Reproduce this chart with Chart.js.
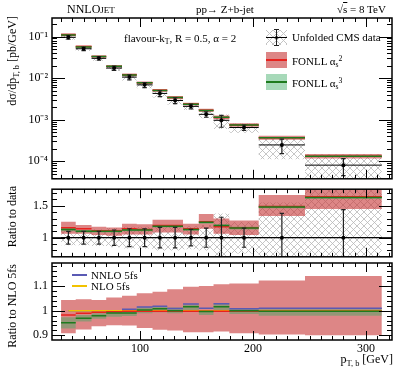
<!DOCTYPE html>
<html>
<head>
<meta charset="utf-8">
<script src="https://cdn.jsdelivr.net/npm/chart.js@4.4.1/dist/chart.umd.min.js"></script>
<style>
body { margin: 0; background: #fff; }
#wrap { position: relative; width: 415px; height: 372px; overflow: hidden; font-family: "Liberation Serif", serif; color: #000; }
canvas { position: absolute; left: 0; }
.t { position: absolute; white-space: nowrap; font-size: 11px; line-height: 1; }
.yt { position: absolute; left: 5px; white-space: nowrap; font-size: 12px; line-height: 14px; transform-origin: 0 0; transform: rotate(-90deg) translateX(-100%); }
sub { font-size: 70%; vertical-align: -0.3em; line-height: 0; }
sup { font-size: 70%; vertical-align: 0.5em; line-height: 0; }
.box { position: absolute; }
</style>
</head>
<body>
<div id="wrap">
  <canvas id="top" width="415" height="184" style="top:0"></canvas>
  <canvas id="mid" width="415" height="78" style="top:184px"></canvas>
  <canvas id="bot" width="415" height="110" style="top:262px"></canvas>

  <div class="t" style="left:67px;top:3px;font-size:12px">NNLO<span style="font-size:9px">JET</span></div>
  <div class="t" style="left:196px;top:4px">pp→ Z+b-jet</div>
  <div class="t" style="left:337px;top:4px">√<span style="text-decoration:overline">s</span> = 8 TeV</div>
  <div class="t" style="left:124px;top:33px">flavour-k<sub>T</sub>, R = 0.5, α = 2</div>

  <!-- legend -->
  <div class="box" style="left:266px;top:30px;width:21px;height:15px;background:repeating-linear-gradient(45deg,#c4c4c4 0 1px,transparent 1px 5px),repeating-linear-gradient(-45deg,#c4c4c4 0 1px,transparent 1px 5px)"></div>
  <div class="box" style="left:266px;top:37px;width:21px;height:1px;background:#000"></div>
  <div class="box" style="left:276px;top:29px;width:1px;height:17px;background:#222"></div>
  <div class="box" style="left:274px;top:29px;width:5px;height:1px;background:#222"></div>
  <div class="box" style="left:274px;top:45px;width:5px;height:1px;background:#222"></div>
  <div class="box" style="left:275px;top:36px;width:3px;height:3px;border-radius:2px;background:#000"></div>
  <div class="t" style="left:292px;top:32px">Unfolded CMS data</div>

  <div class="box" style="left:266px;top:52px;width:21px;height:16px;background:rgb(221,134,134)"></div>
  <div class="box" style="left:266px;top:59px;width:21px;height:2px;background:#e8221e"></div>
  <div class="t" style="left:292px;top:56px">FONLL α<sub>s</sub><sup>2</sup></div>

  <div class="box" style="left:266px;top:74px;width:21px;height:16px;background:rgb(167,217,185)"></div>
  <div class="box" style="left:266px;top:81px;width:21px;height:2px;background:#1e7b1e"></div>
  <div class="t" style="left:292px;top:78px">FONLL α<sub>s</sub><sup>3</sup></div>

  <!-- bottom legend -->
  <div class="box" style="left:72px;top:274px;width:15px;height:2px;background:#5a5ab4"></div>
  <div class="t" style="left:91px;top:270px">NNLO 5fs</div>
  <div class="box" style="left:72px;top:285px;width:15px;height:2px;background:#f2c200"></div>
  <div class="t" style="left:91px;top:281px">NLO 5fs</div>

  <div class="yt" style="top:16px">dσ/dp<sub>T, b</sub> [pb/GeV]</div>
  <div class="yt" style="top:186px">Ratio to data</div>
  <div class="yt" style="top:264px">Ratio to NLO 5fs</div>
  <div class="t" style="right:22px;top:353px;font-size:12px">p<sub>T, b</sub> [GeV]</div>
</div>

<script>
const binEdges = [30, 43, 57, 70, 84, 97, 111, 124, 138, 152, 165, 179, 205, 246, 314];
const xMin = 22, xMax = 323;

// unfolded CMS data, pb/GeV, with relative stat (bars) and total (hatch) uncertainties
const cmsData = [0.096, 0.051, 0.030, 0.0175, 0.0106, 0.0069, 0.0043, 0.0029, 0.0021, 0.00135, 0.00097, 0.00065, 0.000248, 0.000081];
const cmsStat = [0.10, 0.10, 0.10, 0.12, 0.14, 0.14, 0.16, 0.16, 0.13, 0.15, 0.32, 0.15, 0.38, 0.44];
const cmsTotal = [0.12, 0.12, 0.13, 0.15, 0.17, 0.17, 0.20, 0.20, 0.18, 0.20, 0.38, 0.25, 0.55, 0.80];
const ratioData = [1, 1, 1, 1, 1, 1, 1, 1, 1, 1, 1, 1, 1, 1];

// FONLL / data
const fonll2Data   = [1.157, 1.14, 1.11, 1.11, 1.14, 1.13, 1.19, 1.19, 1.14, 1.25, 1.17, 1.155, 1.49, 1.64];
const fonll2DataLo = [1.06, 1.06, 1.04, 1.03, 1.05, 1.05, 1.08, 1.08, 1.05, 1.14, 1.06, 1.04, 1.34, 1.45];
const fonll2DataHi = [1.25, 1.20, 1.17, 1.16, 1.22, 1.21, 1.28, 1.28, 1.22, 1.37, 1.30, 1.27, 1.67, 1.85];
const fonll3Data   = [1.13, 1.10, 1.10, 1.10, 1.12, 1.12, 1.18, 1.18, 1.13, 1.24, 1.19, 1.15, 1.48, 1.63];
const fonll3DataLo = [1.10, 1.08, 1.08, 1.08, 1.10, 1.10, 1.16, 1.16, 1.11, 1.22, 1.17, 1.13, 1.46, 1.61];
const fonll3DataHi = [1.16, 1.12, 1.12, 1.12, 1.14, 1.14, 1.20, 1.20, 1.15, 1.26, 1.21, 1.17, 1.50, 1.65];

// ratios to NLO 5fs
const fonll2Nlo   = [0.982, 0.989, 0.993, 0.995, 0.998, 0.998, 0.998, 0.998, 0.998, 0.997, 0.997, 0.998, 0.998, 0.998];
const fonll2NloLo = [0.908, 0.924, 0.937, 0.941, 0.940, 0.930, 0.923, 0.920, 0.912, 0.912, 0.915, 0.908, 0.903, 0.900];
const fonll2NloHi = [1.043, 1.046, 1.043, 1.053, 1.060, 1.070, 1.077, 1.087, 1.097, 1.100, 1.107, 1.110, 1.122, 1.140];
const fonll3Nlo   = [0.951, 0.969, 0.979, 0.990, 0.990, 1.003, 1.008, 1.000, 1.016, 0.996, 1.016, 1.000, 0.998, 0.998];
const fonll3NloLo = [0.928, 0.956, 0.967, 0.975, 0.978, 0.989, 0.993, 0.989, 1.003, 0.982, 1.003, 0.986, 0.979, 0.979];
const fonll3NloHi = [0.973, 0.982, 0.989, 1.003, 1.000, 1.014, 1.019, 1.013, 1.025, 1.003, 1.030, 1.010, 1.006, 1.006];
const nnlo5fs = [1.0, 1.0, 1.0, 1.0, 1.006, 1.015, 1.018, 1.009, 1.027, 1.010, 1.028, 1.008, 1.010, 1.010];
const nlo5fs  = [1, 1, 1, 1, 1, 1, 1, 1, 1, 1, 1, 1, 1, 1];

// axis ticks
const topTicks = [1e-4, 1e-3, 1e-2, 1e-1];
const topTickLabels = ['10⁻⁴', '10⁻³', '10⁻²', '10⁻¹'];
const midTicks = [1, 1.5];
const botTicks = [0.9, 1, 1.1];
const xTicks = [100, 200, 300];

const RED_BAND = 'rgba(200,60,60,0.62)';
const GREEN_BAND = 'rgba(60,170,100,0.45)';
const RED = '#e8221e', GREEN = '#1e7b1e', BLUE = '#5a5ab4', YELLOW = '#f2c200';

const centre = i => (binEdges[i] + binEdges[i + 1]) / 2;

// continuous step outline, used for band fills
function steps(vals) {
  const pts = [];
  vals.forEach((v, i) => { pts.push({ x: binEdges[i], y: v }, { x: binEdges[i + 1], y: v }); });
  return pts;
}
// one flat segment per bin, broken between bins
function segs(vals, startMid) {
  const pts = [];
  vals.forEach((v, i) => {
    pts.push({ x: (i === 0 && startMid) ? centre(0) : binEdges[i], y: v }, { x: binEdges[i + 1], y: v }, { x: binEdges[i + 1], y: null });
  });
  return pts;
}
function lineDs(pts, color, w) {
  return { data: pts, borderColor: color, borderWidth: w, pointRadius: 0, fill: false };
}
function bandDs(lo, hi, bg) {
  const none = 'rgba(0,0,0,0)';
  return [
    { data: steps(hi), borderColor: none, borderWidth: 0, pointRadius: 0, fill: false },
    { data: steps(lo), borderColor: none, borderWidth: 0, pointRadius: 0, fill: '-1', backgroundColor: bg }
  ];
}
function dataMarks(vals, rel) {
  const v = [], h = [], p = [];
  vals.forEach((d, i) => {
    v.push({ x: centre(i), y: d * (1 - rel[i]), cap: 1 }, { x: centre(i), y: d * (1 + rel[i]), cap: 1 }, { x: centre(i), y: null });
    h.push({ x: binEdges[i], y: d }, { x: binEdges[i + 1], y: d }, { x: binEdges[i + 1], y: null });
    p.push({ x: centre(i), y: d });
  });
  return [
    { data: v, borderColor: '#222', borderWidth: 1.2, pointStyle: 'line', pointBorderColor: '#222', pointBorderWidth: 1.2,
      pointRadius: c => (c.raw && c.raw.cap ? 2.2 : 0) },
    { data: h, borderColor: '#000', borderWidth: 1, pointRadius: 0 },
    { data: p, showLine: false, pointStyle: 'circle', pointRadius: 2, pointBackgroundColor: '#000', pointBorderWidth: 0 }
  ];
}
function hatchFor(canvas) {
  const tile = document.createElement('canvas');
  tile.width = tile.height = 7;
  const g = tile.getContext('2d');
  g.strokeStyle = '#b8b8b8';
  g.lineWidth = 0.8;
  g.beginPath();
  g.moveTo(0, 0); g.lineTo(7, 7);
  g.moveTo(7, 0); g.lineTo(0, 7);
  g.stroke();
  return canvas.getContext('2d').createPattern(tile, 'repeat');
}

// frame with inward ticks on all four sides
const frameTicks = {
  id: 'frameTicks',
  afterDatasetsDraw(chart, args, opts) {
    const { ctx, chartArea: a, scales: { x, y } } = chart;
    ctx.save();
    ctx.strokeStyle = '#000';
    ctx.lineWidth = 1;
    ctx.beginPath();
    for (let v = 30; v <= 320; v += 10) {
      const px = Math.round(x.getPixelForValue(v)) + 0.5;
      const len = v % 100 === 0 ? 9 : 4;
      ctx.moveTo(px, a.bottom); ctx.lineTo(px, a.bottom - len);
      ctx.moveTo(px, a.top); ctx.lineTo(px, a.top + len);
    }
    const yt = (v, len) => {
      const py = Math.round(y.getPixelForValue(v)) + 0.5;
      if (py < a.top || py > a.bottom) return;
      ctx.moveTo(a.left, py); ctx.lineTo(a.left + len, py);
      ctx.moveTo(a.right, py); ctx.lineTo(a.right - len, py);
    };
    opts.major.forEach(v => yt(v, 13));
    opts.minor.forEach(v => yt(v, 5));
    ctx.stroke();
    ctx.lineWidth = 1.5;
    ctx.strokeRect(a.left, a.top, a.width, a.height);
    ctx.restore();
  }
};

function finish(list) {
  list.forEach((d, i) => { d.order = -i; d.tension = 0; d.spanGaps = false; });
  return list;
}

function makeChart(id, datasets, yScale, padding, showX, tickOpts) {
  const xScale = {
    type: 'linear', min: xMin, max: xMax, display: showX,
    grid: { display: false, drawTicks: false, tickLength: 0 }, border: { display: false },
    afterBuildTicks: s => { s.ticks = xTicks.map(v => ({ value: v })); },
    afterFit: s => { s.height = showX ? 32 : 0; s.paddingLeft = 0; s.paddingRight = 0; },
    ticks: { color: '#000', padding: 2, font: { family: 'Liberation Serif', size: 12 } }
  };
  return new Chart(document.getElementById(id), {
    type: 'line',
    data: { datasets: finish(datasets) },
    options: {
      responsive: false, animation: false, devicePixelRatio: 1,
      layout: { padding: padding },
      plugins: { legend: { display: false }, tooltip: { enabled: false }, frameTicks: tickOpts },
      scales: { x: xScale, y: yScale }
    },
    plugins: [frameTicks]
  });
}

function yAxis(extra, ticks, labels) {
  return Object.assign({
    grid: { display: false, drawTicks: false, tickLength: 0 }, border: { display: false },
    afterBuildTicks: s => { s.ticks = ticks.map(v => ({ value: v })); },
    afterFit: s => { s.width = 52; s.paddingTop = 0; s.paddingBottom = 0; },
    ticks: { color: '#000', padding: 4, font: { family: 'Liberation Serif', size: 12 },
      callback: v => labels[ticks.indexOf(v)] }
  }, extra);
}

// ---- top panel ----
const topCanvas = document.getElementById('top');
const topMinor = [];
[1e-5, 1e-4, 1e-3, 1e-2, 1e-1].forEach(d => { for (let k = 2; k <= 9; k++) topMinor.push(k * d); });
const topSets = [];
topSets.push(...bandDs(cmsData.map((d, i) => d * (1 - cmsTotal[i])), cmsData.map((d, i) => d * (1 + cmsTotal[i])), hatchFor(topCanvas)));
topSets.push(...bandDs(cmsData.map((d, i) => d * fonll2DataLo[i]), cmsData.map((d, i) => d * fonll2DataHi[i]), RED_BAND));
topSets.push(...bandDs(cmsData.map((d, i) => d * fonll3DataLo[i]), cmsData.map((d, i) => d * fonll3DataHi[i]), GREEN_BAND));
topSets.push(lineDs(segs(cmsData.map((d, i) => d * fonll2Data[i])), RED, 1.5));
topSets.push(lineDs(segs(cmsData.map((d, i) => d * fonll3Data[i])), GREEN, 1.5));
topSets.push(...dataMarks(cmsData, cmsStat));
makeChart('top', topSets,
  yAxis({ type: 'logarithmic', min: 3.8e-5, max: 0.28 }, topTicks, topTickLabels),
  { left: 0, right: 23, top: 18, bottom: 1 }, false,
  { major: topTicks, minor: topMinor });

// ---- ratio to data ----
const midCanvas = document.getElementById('mid');
const midMinor = [0.8, 0.9, 1.1, 1.2, 1.3, 1.4, 1.6, 1.7];
const midSets = [];
midSets.push(...bandDs(cmsTotal.map(r => 1 - r), cmsTotal.map(r => 1 + r), hatchFor(midCanvas)));
midSets.push(...bandDs(fonll2DataLo, fonll2DataHi, RED_BAND));
midSets.push(...bandDs(fonll3DataLo, fonll3DataHi, GREEN_BAND));
midSets.push(lineDs(segs(fonll2Data), RED, 1.5));
midSets.push(lineDs(segs(fonll3Data), GREEN, 1.5));
midSets.push(lineDs([{ x: xMin, y: 1 }, { x: xMax, y: 1 }], '#000', 1));
midSets.push(...dataMarks(ratioData, cmsStat));
makeChart('mid', midSets,
  yAxis({ type: 'linear', min: 0.7, max: 1.76 }, midTicks, ['1', '1.5']),
  { left: 0, right: 23, top: 2, bottom: 2 }, false,
  { major: midTicks, minor: midMinor });

// ---- ratio to NLO 5fs ----
const botMinor = [0.92, 0.94, 0.96, 0.98, 1.02, 1.04, 1.06, 1.08, 1.12, 1.14, 1.16, 1.18];
const botSets = [];
botSets.push(...bandDs(fonll2NloLo, fonll2NloHi, RED_BAND));
botSets.push(...bandDs(fonll3NloLo, fonll3NloHi, GREEN_BAND));
botSets.push(lineDs(segs(nnlo5fs, true), BLUE, 1.5));
botSets.push(lineDs(segs(nlo5fs, true), YELLOW, 1.5));
botSets.push(lineDs(segs(fonll2Nlo), RED, 1.5));
botSets.push(lineDs(segs(fonll3Nlo), GREEN, 1.5));
makeChart('bot', botSets,
  yAxis({ type: 'linear', min: 0.881, max: 1.193 }, botTicks, ['0.9', '1', '1.1']),
  { left: 0, right: 23, top: 1, bottom: 0 }, true,
  { major: botTicks, minor: botMinor });
</script>
</body>
</html>
